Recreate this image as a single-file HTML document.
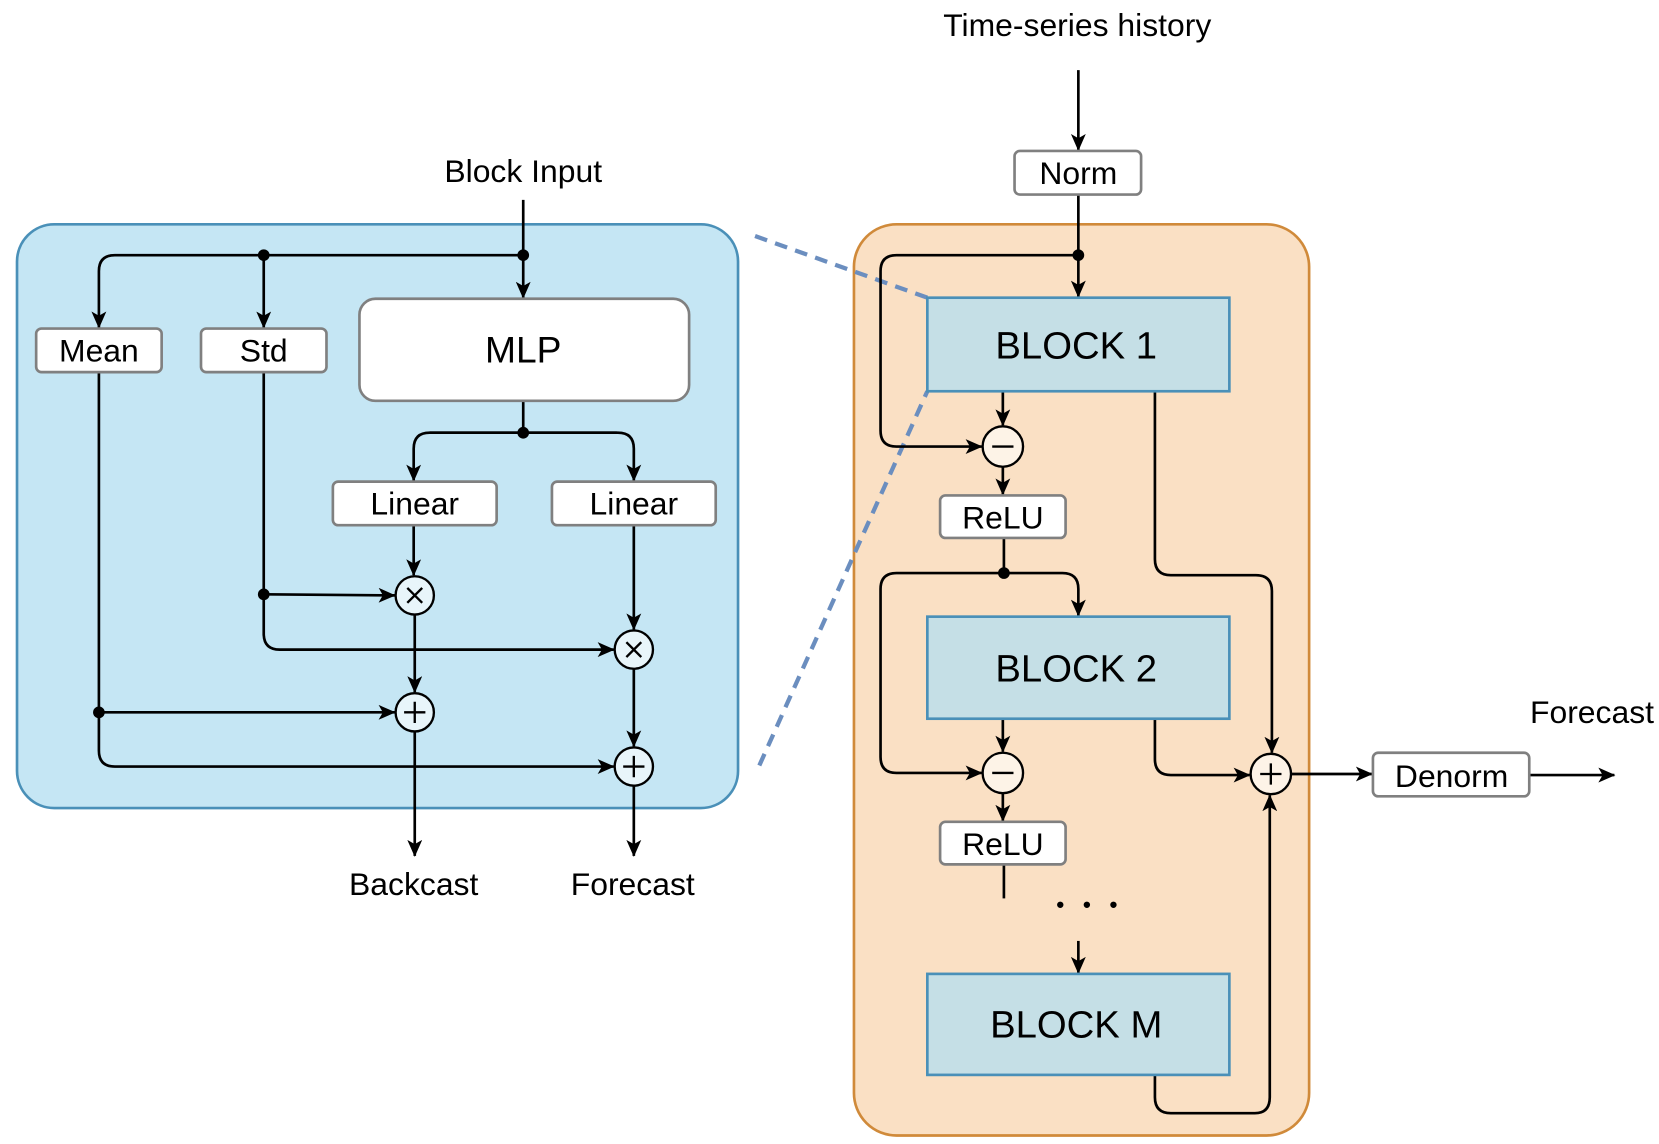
<!DOCTYPE html>
<html><head><meta charset="utf-8"><style>html,body{margin:0;padding:0;background:#fff}svg{display:block}text{font-family:"Liberation Sans",Arial,sans-serif;fill:#000}</style></head><body>
<svg width="1659" height="1144" viewBox="0 0 1560 1076" preserveAspectRatio="none" xmlns="http://www.w3.org/2000/svg">
<defs><marker id="a" markerWidth="16" markerHeight="14" refX="15" refY="7" orient="auto" markerUnits="userSpaceOnUse"><path d="M0,0 L16,7 L0,14 L4,7 z" fill="#000"/></marker></defs>
<rect x="16" y="211" width="678" height="549" rx="35" fill="#c5e6f4" stroke="#4a90b8" stroke-width="2.5"/>
<rect x="803" y="211" width="428" height="857" rx="40" fill="#fae0c4" stroke="#d08a3a" stroke-width="2.5"/>
<g stroke="#6b8ebf" stroke-width="4" stroke-dasharray="12,8" fill="none"><line x1="710" y1="222" x2="872" y2="280"/><line x1="714" y1="720" x2="872" y2="368"/></g>
<g fill="none" stroke="#000" stroke-width="2.5">
<path d="M492,188 V280" marker-end="url(#a)"/>
<path d="M492,240 H108 Q93,240 93,255 V308" marker-end="url(#a)"/>
<path d="M248,240 V308" marker-end="url(#a)"/>
<path d="M492,377 V407 M404,407 H580"/>
<path d="M492,407 H404 Q389,407 389,422 V452" marker-end="url(#a)"/>
<path d="M492,407 H581 Q596,407 596,422 V452" marker-end="url(#a)"/>
<path d="M389,494 V541" marker-end="url(#a)"/>
<path d="M596,494 V592" marker-end="url(#a)"/>
<path d="M248,350 V596 Q248,611 263,611 H577" marker-end="url(#a)"/>
<path d="M248,559 L371,560" marker-end="url(#a)"/>
<path d="M390,578 V651" marker-end="url(#a)"/>
<path d="M596,629 V702" marker-end="url(#a)"/>
<path d="M93,350 V706 Q93,721 108,721 H577" marker-end="url(#a)"/>
<path d="M93,670 H371" marker-end="url(#a)"/>
<path d="M390,688 V805" marker-end="url(#a)"/>
<path d="M596,739 V805" marker-end="url(#a)"/>
<path d="M1014,66 V141" marker-end="url(#a)"/>
<path d="M1014,183 V279" marker-end="url(#a)"/>
<path d="M1014,240 H843 Q828,240 828,255 V405 Q828,420 843,420 H923" marker-end="url(#a)"/>
<path d="M943,368 V400" marker-end="url(#a)"/>
<path d="M943,439 V465" marker-end="url(#a)"/>
<path d="M944,506 V539 H999 Q1014,539 1014,554 V579" marker-end="url(#a)"/>
<path d="M944,539 H843 Q828,539 828,554 V712 Q828,727 843,727 H923" marker-end="url(#a)"/>
<path d="M943,676 V707" marker-end="url(#a)"/>
<path d="M943,746 V772" marker-end="url(#a)"/>
<path d="M944,813 V845"/>
<path d="M1014,885 V915" marker-end="url(#a)"/>
<path d="M1086,368 V526 Q1086,541 1101,541 H1181 Q1196,541 1196,556 V708" marker-end="url(#a)"/>
<path d="M1086,676 V714 Q1086,729 1101,729 H1175" marker-end="url(#a)"/>
<path d="M1086,1011 V1032 Q1086,1047 1101,1047 H1180 Q1194,1047 1194,1032 V748" marker-end="url(#a)"/>
<path d="M1214,728 H1290" marker-end="url(#a)"/>
<path d="M1438,729 H1518" marker-end="url(#a)"/>
</g>
<g fill="#000"><circle cx="492" cy="240" r="5.5"/><circle cx="248" cy="240" r="5.5"/><circle cx="492" cy="407" r="5.5"/><circle cx="248" cy="559" r="5.5"/><circle cx="93" cy="670" r="5.5"/><circle cx="1014" cy="240" r="5.5"/><circle cx="944" cy="539" r="5.5"/></g>
<g fill="#fff" stroke="#808080" stroke-width="2.5">
<rect x="34" y="309" width="118" height="41" rx="5"/><rect x="189" y="309" width="118" height="41" rx="5"/>
<rect x="338" y="281" width="310" height="96" rx="15"/>
<rect x="313" y="453" width="154" height="41" rx="5"/><rect x="519" y="453" width="154" height="41" rx="5"/>
<rect x="954" y="142" width="119" height="41" rx="5"/>
<rect x="884" y="466" width="118" height="40" rx="5"/><rect x="884" y="773" width="118" height="40" rx="5"/>
<rect x="1291" y="708" width="147" height="41" rx="5"/>
</g>
<g fill="#c5dfe6" stroke="#4a90b8" stroke-width="2.5">
<rect x="872" y="280" width="284" height="88"/><rect x="872" y="580" width="284" height="96"/><rect x="872" y="916" width="284" height="95"/>
</g>
<g stroke="#000" stroke-width="2.2">
<circle cx="390" cy="560" r="18" fill="#e8f5fa"/><circle cx="596" cy="611" r="18" fill="#e8f5fa"/>
<circle cx="390" cy="670" r="18" fill="#e8f5fa"/><circle cx="596" cy="721" r="18" fill="#e8f5fa"/>
<circle cx="943" cy="420" r="19" fill="#fdf3e7"/><circle cx="943" cy="727" r="19" fill="#fdf3e7"/><circle cx="1195" cy="728" r="19" fill="#fdf3e7"/>
<path d="M383,553 L397,567 M397,553 L383,567 M589,604 L603,618 M603,604 L589,618 M380,670 H400 M390,660 V680 M586,721 H606 M596,711 V731 M933,420 H953 M933,727 H953 M1185,728 H1205 M1195,718 V738" fill="none"/>
</g>
<g font-size="30" text-anchor="middle">
<text x="492" y="171">Block Input</text>
<text x="1013" y="34">Time-series history</text>
<text x="93" y="340">Mean</text><text x="248" y="340">Std</text>
<text x="390" y="484">Linear</text><text x="596" y="484">Linear</text>
<text x="1014" y="173">Norm</text>
<text x="943" y="497">ReLU</text><text x="943" y="804">ReLU</text>
<text x="1365" y="740">Denorm</text>
<text x="389" y="842">Backcast</text><text x="595" y="842">Forecast</text>
<text x="1497" y="680">Forecast</text>
<text x="492" y="341" font-size="35">MLP</text>
<text x="1012" y="337" font-size="36">BLOCK 1</text>
<text x="1012" y="641" font-size="36">BLOCK 2</text>
<text x="1012" y="976" font-size="36">BLOCK M</text>
</g>
<g fill="#000"><circle cx="997" cy="851" r="3"/><circle cx="1022" cy="851" r="3"/><circle cx="1047" cy="851" r="3"/></g>
</svg>
</body></html>
